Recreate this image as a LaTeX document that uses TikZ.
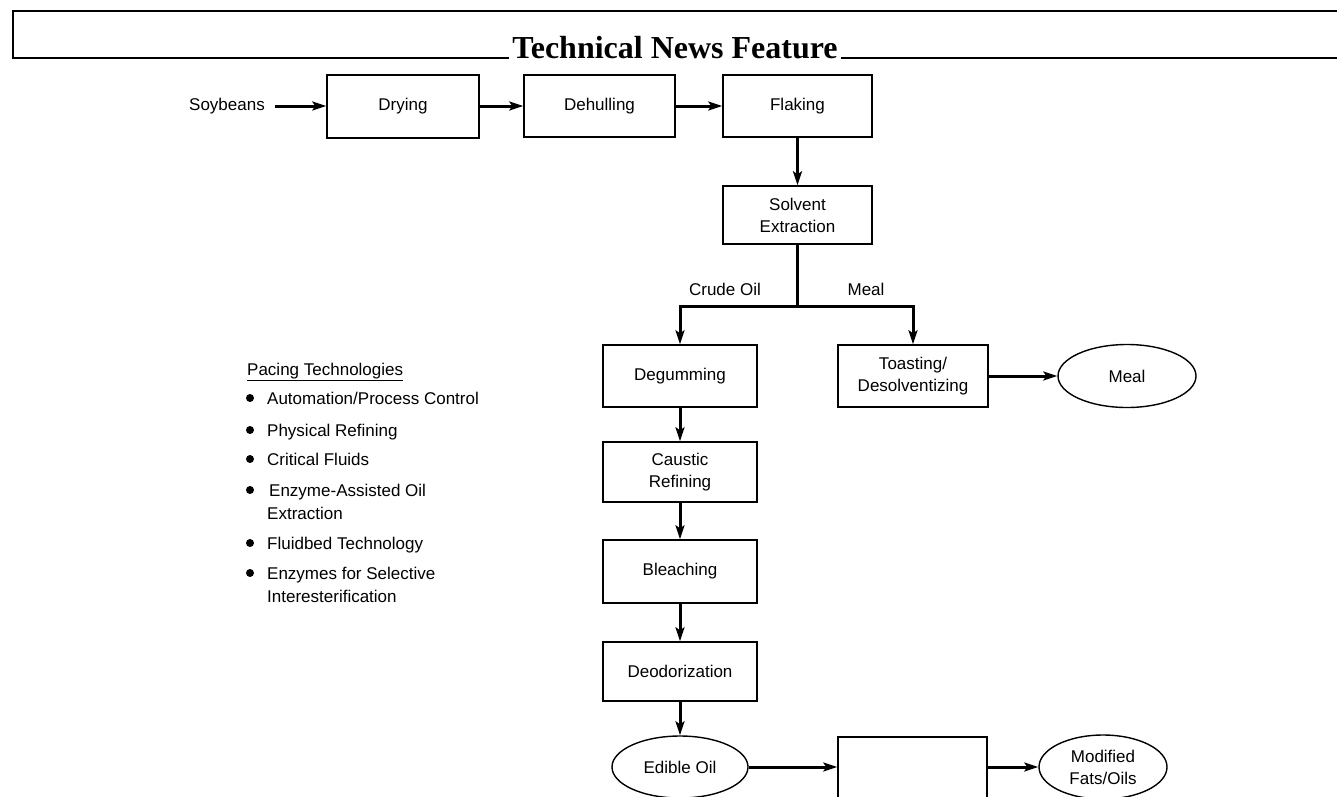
\documentclass[tikz,border=0pt]{standalone}
\usepackage{fontspec}
\setmainfont{Liberation Sans}
\newfontfamily\titlefont{Liberation Serif}
\usetikzlibrary{arrows.meta,shapes.geometric}
\begin{document}
\begin{tikzpicture}[x=1pt,y=-1pt,
  every node/.style={inner sep=0pt},
  txt/.style={font=\fontsize{17}{22}\selectfont},
  box/.style={draw, line width=1.4pt, align=center, font=\fontsize{17}{22}\selectfont},
  oval/.style={draw, ellipse, line width=1.4pt, align=center, font=\fontsize{17}{22}\selectfont},
  flow/.style={line width=3pt, -{Stealth[length=14pt,width=9pt,inset=3pt]}},
  frame/.style={line width=1.8pt},
  bul/.style={circle, fill, minimum size=8pt},
  item/.style={anchor=base west, font=\fontsize{17}{22}\selectfont},
]
\useasboundingbox (0,0) rectangle (1337,796);
\clip (0,0) rectangle (1337,796);

% header
\node[anchor=base, inner sep=3pt, font=\titlefont\bfseries\fontsize{32}{32}\selectfont] (title) at (675,58) {Technical News Feature};
\draw[frame] (1337,11) -- (13,11) -- (13,58) -- (title.base west);
\draw[frame] (title.base east) -- (1337,58);

% top row
\node[txt] (soy) at (227,106) {Soybeans};
\node[box, minimum width=152pt, minimum height=63pt] (dry) at (403,106.5) {Drying};
\node[box, minimum width=151pt, minimum height=62pt] (dehull) at (599.5,106) {Dehulling};
\node[box, minimum width=149pt, minimum height=62pt] (flake) at (797.5,106) {Flaking};
\node[box, minimum width=149pt, minimum height=58pt] (solv) at (797.5,215) {Solvent\\Extraction};

\draw[flow] ([xshift=10pt]soy.east) -- (soy.east -| dry.west);
\draw[flow] (dry.east |- dehull.west) -- (dehull.west);
\draw[flow] (dehull.east) -- (flake.west);
\draw[flow] (flake.south) -- (solv.north);

% branches
\coordinate (split) at (797.5,306);
\node[box, minimum width=154pt, minimum height=62pt] (degum) at (680,376) {Degumming};
\node[box, minimum width=150pt, minimum height=62pt] (toast) at (913,376) {Toasting/\\Desolventizing};
\node[oval, minimum width=138pt, minimum height=63pt] (meal) at (1127,376) {Meal};
\node[txt] (crude) at (725,289) {Crude Oil};
\node[txt] (meallbl) at (866,289) {Meal};

\draw[line width=3pt] (solv.south) -- (split);
\draw[flow] (split) -| (degum.north);
\draw[flow] (split) -| (toast.north);
\draw[flow] (toast.east) -- (meal.west);

% oil refining chain
\node[box, minimum width=154pt, minimum height=60pt] (caustic) at (680,472) {Caustic\\Refining};
\node[box, minimum width=154pt, minimum height=63pt] (bleach) at (680,571.5) {Bleaching};
\node[box, minimum width=154pt, minimum height=59pt] (deodor) at (680,671.5) {Deodorization};
\node[oval, minimum width=136pt, minimum height=62pt] (edible) at (680,767) {Edible Oil};
\node[box, minimum width=149pt, minimum height=120pt] (blank) at (912.5,797) {};
\node[oval, minimum width=128pt, minimum height=64pt] (modified) at (1103,767) {Modified\\Fats/Oils};

\draw[flow] (degum.south) -- (caustic.north);
\draw[flow] (caustic.south) -- (bleach.north);
\draw[flow] (bleach.south) -- (deodor.north);
\draw[flow] (deodor.south) -- (edible.north);
\draw[flow] (edible.east) -- (edible.east -| blank.west);
\draw[flow] (blank.east |- modified.west) -- (modified.west);

% pacing technologies list
\node[item] (pacing) at (247,375) {\underline{Pacing Technologies}};
\node[bul] (b1) at (250,398) {};
\node[item] (t1) at (267,404) {Automation/Process Control};
\node[bul] (b2) at (250,430) {};
\node[item] (t2) at (267,436) {Physical Refining};
\node[bul] (b3) at (250,459) {};
\node[item] (t3) at (267,465) {Critical Fluids};
\node[bul] (b4) at (250,490) {};
\node[item] (t4) at (269,496) {Enzyme-Assisted Oil};
\node[item] (t4b) at (267,519) {Extraction};
\node[bul] (b5) at (250,543) {};
\node[item] (t5) at (267,549) {Fluidbed Technology};
\node[bul] (b6) at (250,573) {};
\node[item] (t6) at (267,579) {Enzymes for Selective};
\node[item] (t6b) at (267,602) {Interesterification};
\end{tikzpicture}
\end{document}
